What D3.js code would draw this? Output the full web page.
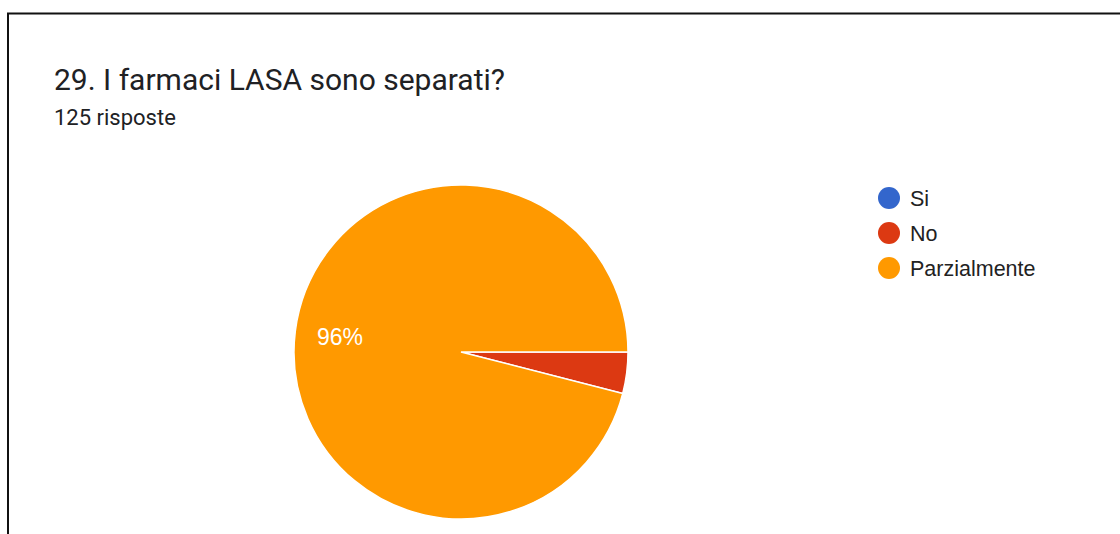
<!DOCTYPE html>
<html>
<head>
<meta charset="utf-8">
<script src="https://cdn.jsdelivr.net/npm/d3@7"></script>
<style>
  html, body { margin: 0; padding: 0; background: #fff; }
  svg { display: block; font-family: Roboto, "Noto Sans", Arial, sans-serif; }
</style>
</head>
<body>
<svg id="chart" width="1120" height="534"></svg>
<script>
// Survey answers for question 29
const categories = ["Si", "No", "Parzialmente"];
const counts = [0, 5, 120];
const colors = ["#3366cc", "#dc3912", "#ff9900"];
const title = "29. I farmaci LASA sono separati?";
const subtitle = "125 risposte";

const total = d3.sum(counts);
const svg = d3.select("#chart");
const chartFont = "'Liberation Sans', Arial, sans-serif";

// card frame (top and left edges visible)
svg.append("line").attr("x1", 7).attr("x2", 1120).attr("y1", 13.5).attr("y2", 13.5)
  .attr("stroke", "#111").attr("stroke-width", 2);
svg.append("line").attr("x1", 8).attr("x2", 8).attr("y1", 13).attr("y2", 534)
  .attr("stroke", "#111").attr("stroke-width", 2);

svg.append("text").attr("x", 54).attr("y", 90)
  .attr("font-size", 30).attr("fill", "#202124").text(title);
svg.append("text").attr("x", 54).attr("y", 125)
  .attr("font-size", 22).attr("fill", "#202124").text(subtitle);

// pie, starting at three o'clock and running clockwise
const cx = 461, cy = 352, r = 167;
const data = categories.map((c, i) => ({ cat: c, value: counts[i], color: colors[i] }));
const pie = d3.pie().value(d => d.value).sort(null)
  .startAngle(Math.PI / 2).endAngle(Math.PI / 2 + 2 * Math.PI);
const arc = d3.arc().innerRadius(0).outerRadius(r);
const arcs = pie(data);

const g = svg.append("g").attr("transform", `translate(${cx},${cy})`);
g.selectAll("path").data(arcs.filter(a => a.data.value > 0)).join("path")
  .attr("d", arc)
  .attr("fill", d => d.data.color)
  .attr("stroke", "#fff").attr("stroke-width", 1.5);

// percentage labels at the middle of slices that are large enough
const labelR = r * 0.73;
const midAngle = d => (d.startAngle + d.endAngle) / 2;
g.selectAll("text.pct").data(arcs.filter(a => a.data.value / total > 0.05)).join("text")
  .attr("class", "pct")
  .attr("x", d => Math.sin(midAngle(d)) * labelR)
  .attr("y", d => -Math.cos(midAngle(d)) * labelR)
  .attr("text-anchor", "middle").attr("dominant-baseline", "central")
  .attr("font-family", chartFont)
  .attr("font-size", 23).attr("fill", "#fff")
  .text(d => Math.round(d.data.value / total * 100) + "%");

// legend
const legend = svg.append("g").attr("transform", "translate(889,198)");
const rows = legend.selectAll("g").data(data).join("g")
  .attr("transform", (d, i) => `translate(0,${i * 35})`);
rows.append("circle").attr("r", 11).attr("fill", d => d.color);
rows.append("text").attr("x", 21).attr("y", 8)
  .attr("font-family", chartFont)
  .attr("font-size", 21.5).attr("fill", "#222").text(d => d.cat);
</script>
</body>
</html>
